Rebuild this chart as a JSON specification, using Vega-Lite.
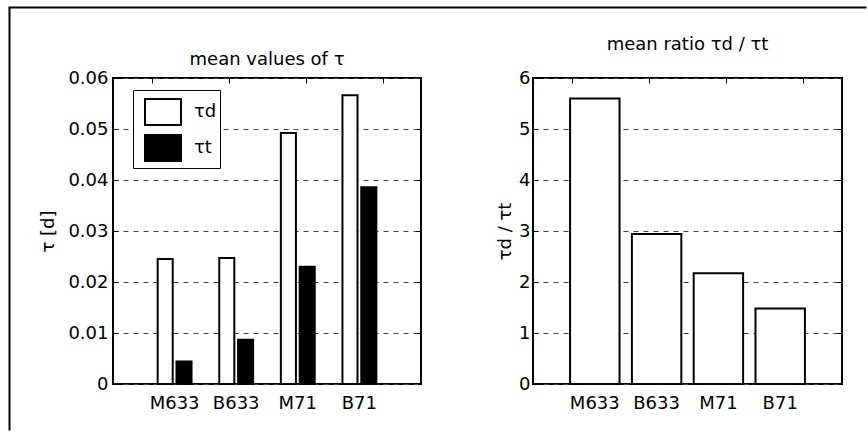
{
  "$schema": "https://vega.github.io/schema/vega-lite/v6.json",
  "padding": {"left": 8, "top": 6, "right": 0, "bottom": 0},
  "background": "white",
  "bounds": "flush",
  "spacing": 112,
  "datasets": {
    "tau": [
      {"cat": "M633", "series": "τd", "value": 0.0245},
      {"cat": "M633", "series": "τt", "value": 0.0044},
      {"cat": "B633", "series": "τd", "value": 0.0247},
      {"cat": "B633", "series": "τt", "value": 0.0087},
      {"cat": "M71", "series": "τd", "value": 0.0492},
      {"cat": "M71", "series": "τt", "value": 0.0230},
      {"cat": "B71", "series": "τd", "value": 0.0566},
      {"cat": "B71", "series": "τt", "value": 0.0386}
    ],
    "ratio": [
      {"cat": "M633", "ratio": 5.6},
      {"cat": "B633", "ratio": 2.94},
      {"cat": "M71", "ratio": 2.17},
      {"cat": "B71", "ratio": 1.48}
    ]
  },
  "config": {
    "font": "DejaVu Sans",
    "view": {"stroke": "black", "strokeWidth": 2},
    "axis": {
      "labelFont": "DejaVu Sans", "labelFontSize": 18, "labelColor": "black",
      "titleFont": "DejaVu Sans", "titleFontSize": 18, "titleFontWeight": "normal", "titleColor": "black"
    },
    "title": {"font": "DejaVu Sans", "fontSize": 18, "fontWeight": "normal", "color": "black"}
  },
  "hconcat": [
    {
      "width": 308,
      "height": 306,
      "title": {"text": "mean values of  τ", "offset": -76, "baseline": "alphabetic", "frame": "group", "anchor": "middle"},
      "data": {"name": "tau"},
      "layer": [
        {
          "mark": {"type": "bar", "stroke": "black", "strokeWidth": 2},
          "encoding": {
            "x": {
              "field": "cat", "type": "nominal", "sort": ["M633", "B633", "M71", "B71"],
              "scale": {"paddingInner": 0.45, "paddingOuter": 0.725},
              "axis": {"title": null, "labelAngle": 0, "ticks": false, "domain": false, "labelPadding": 10}
            },
            "xOffset": {
              "field": "series", "type": "nominal", "sort": ["τd", "τt"],
              "scale": {"paddingInner": 0.2, "paddingOuter": 0}
            },
            "y": {
              "field": "value", "type": "quantitative",
              "scale": {"domain": [0, 0.06], "nice": false},
              "axis": {
                "title": "τ [d]", "values": [0, 0.01, 0.02, 0.03, 0.04, 0.05, 0.06], "format": ".2~f",
                "domain": false, "tickSize": -5, "tickColor": "black", "tickWidth": 1,
                "gridDash": [5, 5], "gridColor": "#444", "gridOpacity": 1,
                "labelPadding": 10, "titlePadding": 10
              }
            },
            "fill": {
              "field": "series", "type": "nominal",
              "scale": {"domain": ["τd", "τt"], "range": ["white", "black"]},
              "legend": {
                "title": null, "orient": "none", "legendX": 20, "legendY": 12,
                "fillColor": "white", "strokeColor": "black", "padding": 3,
                "symbolType": "M-0.556,-0.722L1.444,-0.722L1.444,0.722L-0.556,0.722Z",
                "symbolSize": 1296, "symbolStrokeColor": "black", "symbolStrokeWidth": 2,
                "labelFont": "DejaVu Sans", "labelFontSize": 18, "labelColor": "black",
                "labelOffset": 20, "rowPadding": 0
              }
            }
          }
        },
        {
          "mark": {"type": "point", "opacity": 0},
          "encoding": {
            "x": {
              "field": "cat", "type": "nominal", "sort": ["M633", "B633", "M71", "B71"],
              "scale": {"paddingInner": 0.45, "paddingOuter": 0.725},
              "axis": {"orient": "top", "title": null, "labels": false, "ticks": true, "tickSize": -5, "tickColor": "black", "domain": false, "grid": false}
            },
            "y": {
              "field": "value", "type": "quantitative",
              "scale": {"domain": [0, 0.06], "nice": false},
              "axis": {"orient": "right", "title": null, "labels": false, "values": [0.01, 0.02, 0.03, 0.04, 0.05], "tickSize": -5, "tickColor": "black", "domain": false, "grid": false}
            }
          }
        },
        {
          "mark": {"type": "point", "opacity": 0},
          "encoding": {
            "x": {
              "field": "value", "type": "quantitative",
              "scale": {"domain": [0, 1], "range": [-105, 753], "nice": false, "zero": false},
              "axis": {"orient": "top", "offset": 71, "title": null, "labels": false, "ticks": false, "grid": false, "domainColor": "black", "domainWidth": 2}
            },
            "y": {
              "field": "value", "type": "quantitative",
              "scale": {"domain": [0, 1], "range": [352, -71], "nice": false, "zero": false},
              "axis": {"orient": "left", "offset": 104, "title": null, "labels": false, "ticks": false, "grid": false, "domainColor": "black", "domainWidth": 2}
            }
          }
        }
      ],
      "resolve": {"scale": {"x": "independent", "y": "independent"}}
    },
    {
      "width": 309,
      "height": 306,
      "title": {"text": "mean ratio  τd / τt", "offset": 1, "baseline": "alphabetic", "frame": "group", "anchor": "middle"},
      "data": {"name": "ratio"},
      "layer": [
        {
          "mark": {"type": "bar", "fill": "white", "stroke": "black", "strokeWidth": 2},
          "encoding": {
            "x": {
              "field": "cat", "type": "nominal", "sort": ["M633", "B633", "M71", "B71"],
              "scale": {"paddingInner": 0.2, "paddingOuter": 0.6},
              "axis": {"title": null, "labelAngle": 0, "ticks": false, "domain": false, "labelPadding": 10}
            },
            "y": {
              "field": "ratio", "type": "quantitative",
              "scale": {"domain": [0, 6], "nice": false},
              "axis": {
                "title": "τd / τt", "values": [0, 1, 2, 3, 4, 5, 6],
                "domain": false, "tickSize": -5, "tickColor": "black", "tickWidth": 1,
                "gridDash": [5, 5], "gridColor": "#444", "gridOpacity": 1,
                "labelPadding": 8, "titlePadding": 4
              }
            }
          }
        },
        {
          "mark": {"type": "point", "opacity": 0},
          "encoding": {
            "x": {
              "field": "cat", "type": "nominal", "sort": ["M633", "B633", "M71", "B71"],
              "scale": {"paddingInner": 0.2, "paddingOuter": 0.6},
              "axis": {"orient": "top", "title": null, "labels": false, "ticks": true, "tickSize": -5, "tickColor": "black", "domain": false, "grid": false}
            },
            "y": {
              "field": "ratio", "type": "quantitative",
              "scale": {"domain": [0, 6], "nice": false},
              "axis": {"orient": "right", "title": null, "labels": false, "values": [1, 2, 3, 4, 5], "tickSize": -5, "tickColor": "black", "domain": false, "grid": false}
            }
          }
        }
      ],
      "resolve": {"scale": {"x": "independent", "y": "independent"}}
    }
  ]
}
